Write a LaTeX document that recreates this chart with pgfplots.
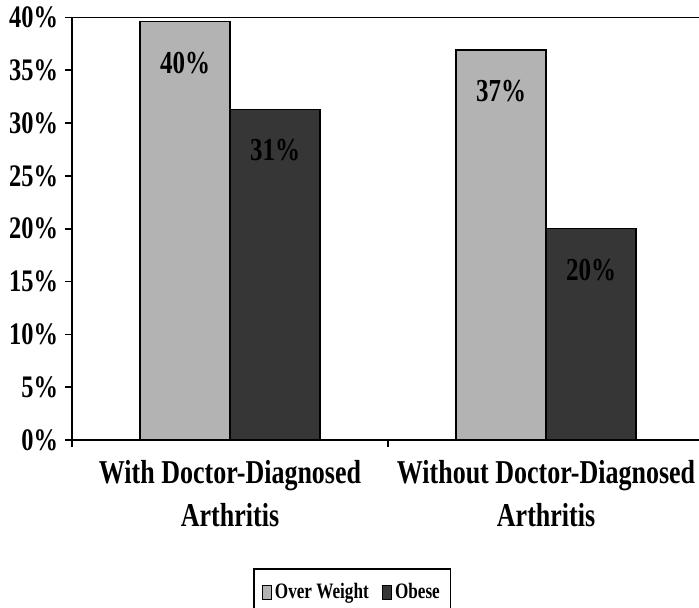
\documentclass[border=0pt]{standalone}
\usepackage{pgfplots}
\pgfplotsset{compat=1.18}
\usepackage{fontspec}
\setmainfont{Liberation Serif}[FakeStretch=0.78]
\definecolor{lightbar}{RGB}{179,179,179}
\definecolor{darkbar}{RGB}{54,54,54}
\begin{document}
\begin{tikzpicture}
\useasboundingbox (0pt,0pt) rectangle (524.25pt,455.25pt);
\begin{axis}[
    at={(54pt,125.25pt)}, anchor=south west,
    scale only axis,
    width=470.25pt, height=316.9pt,
    ybar=0pt, bar width=67.5pt,
    axis x line*=bottom, axis y line*=left,
    axis line style={line width=1.3pt},
    xmin=-0.5, xmax=1.484,
    ymin=0, ymax=40,
    ytick={0,5,...,40},
    yticklabel={\pgfmathprintnumber{\tick}\%},
    /pgf/number format/assume math mode=true,
    yticklabel style={font=\fontsize{23.5}{26}\bfseries\selectfont, xshift=-2pt},
    tick align=outside,
    major tick length=5pt,
    tick style={black, line width=1.3pt},
    xtick={-0.5,0.5,1.5},
    xticklabels={},
    extra x ticks={0,1},
    extra x tick labels={{With Doctor-Diagnosed\\Arthritis},{Without Doctor-Diagnosed\\Arthritis}},
    extra x tick style={major tick length=0pt,
        xticklabel style={align=center, font=\fontsize{25}{32}\bfseries\selectfont, yshift=-12pt}},
    nodes near coords={\pgfmathprintnumber[fixed,precision=0]{\pgfplotspointmeta}\%},
    nodes near coords align={below},
    every node near coord/.append style={font=\fontsize{24}{26}\bfseries\selectfont, black, inner sep=0pt, yshift=-22pt},
    legend columns=2,
    legend style={at={(0.447,-0.303)}, anchor=north, draw=black, line width=1.2pt,
        font=\fontsize{16.5}{18}\bfseries\selectfont, inner xsep=6pt, inner ysep=9pt,
        /tikz/every even column/.append style={column sep=8pt}},
    legend image code/.code={\draw[#1, draw=black, line width=0.9pt] (0pt,-5.25pt) rectangle (6.75pt,5.25pt);},
]
\addplot[fill=lightbar, draw=black, line width=1.1pt] coordinates {(0,39.6) (1,36.9)};
\addplot[fill=darkbar, draw=black, line width=1.1pt] coordinates {(0,31.3) (1,20.0)};
\draw[line width=1.3pt] (rel axis cs:0,1) -- (rel axis cs:1,1);
\legend{Over Weight,Obese}
\end{axis}
\end{tikzpicture}
\end{document}
